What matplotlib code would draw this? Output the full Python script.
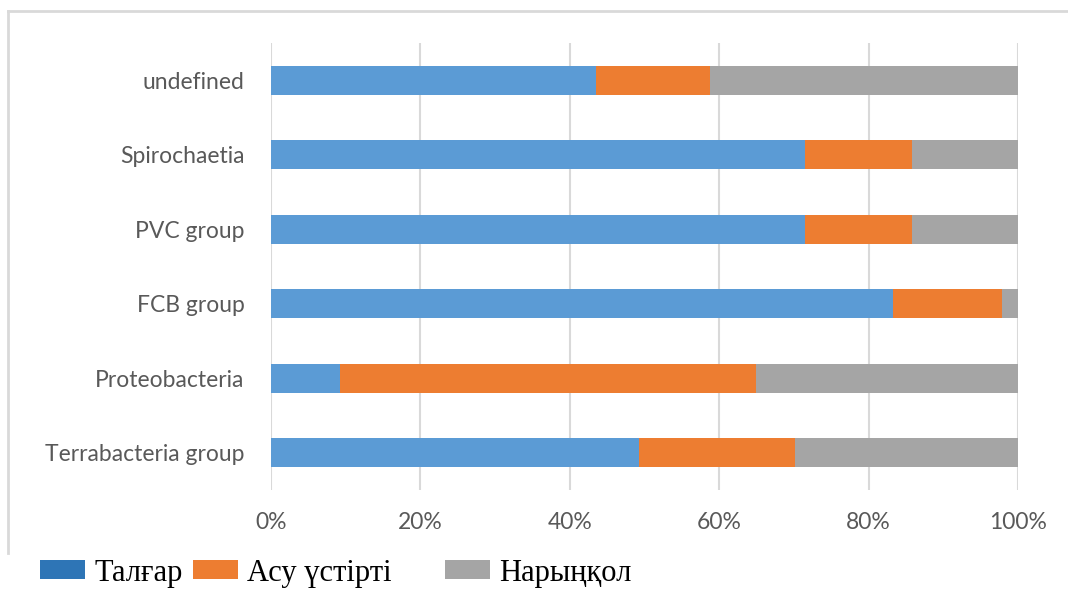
import matplotlib.pyplot as plt
from matplotlib.patches import Patch
from matplotlib.lines import Line2D
import numpy as np

# categories listed bottom -> top
categories = ['Terrabacteria group', 'Proteobacteria', 'FCB group',
              'PVC group', 'Spirochaetia', 'undefined']
talgar = [49.3, 9.2, 83.3, 71.5, 71.5, 43.5]
asu = [20.8, 55.7, 14.6, 14.3, 14.3, 15.3]
naryn = [29.9, 35.1, 2.1, 14.2, 14.2, 41.2]
series_names = ['Талғар', 'Асу үстірті', 'Нарыңқол']
xticks = [0, 20, 40, 60, 80, 100]

bar_colors = ['#5B9BD5', '#ED7D31', '#A5A5A5']
legend_colors = ['#2E75B6', '#ED7D31', '#A5A5A5']

fig = plt.figure(figsize=(10.68, 5.9), dpi=100)
ax = fig.add_axes([271/1068, 1 - 490/590, (1018-271)/1068, (490-43)/590])

y = np.arange(len(categories))
left = np.zeros(len(categories))
for vals, c in zip([talgar, asu, naryn], bar_colors):
    ax.barh(y, vals, left=left, height=0.39, color=c, zorder=3)
    left += np.array(vals)

ax.set_xlim(0, 100)
ax.set_ylim(-0.5, len(categories) - 0.5)
ax.set_xticks(xticks)
ax.set_xticklabels([f'{t}%' for t in xticks])
ax.set_yticks(y)
ax.set_yticklabels(categories)
ax.grid(axis='x', color='#D9D9D9', linewidth=1.5, zorder=0)
for s in ax.spines.values():
    s.set_visible(False)
ax.tick_params(axis='both', length=0, colors='#595959', labelsize=16.5)
ax.tick_params(axis='x', pad=16)
ax.tick_params(axis='y', pad=19)
for lab in ax.get_xticklabels() + ax.get_yticklabels():
    lab.set_fontfamily('Lato')

# outer chart frame (top and left edges visible)
fig.add_artist(Line2D([8/1068, 1], [1 - 11/590, 1 - 11/590], color='#D9D9D9', lw=2))
fig.add_artist(Line2D([8/1068, 8/1068], [1 - 11/590, 1 - 553/590], color='#D9D9D9', lw=2))

handles = [Patch(facecolor=c, edgecolor='none') for c in legend_colors]
lkw = dict(frameon=False, prop={'family': 'Liberation Serif', 'size': 22},
           handlelength=1.47, handleheight=0.6, handletextpad=0.3,
           borderaxespad=0, borderpad=0)
leg1 = fig.legend(handles[:2], series_names[:2], ncol=2, columnspacing=0.35,
                  loc='center left', bbox_to_anchor=(40/1068, 1 - 573/590), **lkw)
leg2 = fig.legend(handles[2:], series_names[2:],
                  loc='center left', bbox_to_anchor=(445/1068, 1 - 573/590), **lkw)
for leg in (leg1, leg2):
    for t in leg.get_texts():
        t.set_color('black')

fig.savefig('out.png', dpi=100)
